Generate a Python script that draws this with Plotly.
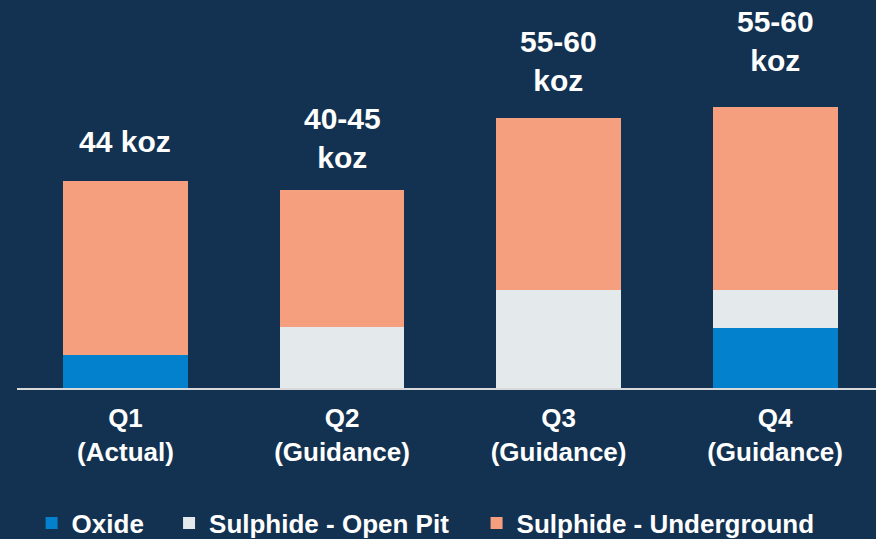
import plotly.graph_objects as go

# quarterly gold production by ore source (koz)
quarters = ["Q1<br>(Actual)", "Q2<br>(Guidance)", "Q3<br>(Guidance)", "Q4<br>(Guidance)"]
oxide = [7, 0, 0, 12.8]
sulphide_open_pit = [0, 13, 20.8, 8]
sulphide_underground = [37, 29, 36.6, 39]
totals_text = ["44 koz", "40-45<br>koz", "55-60<br>koz", "55-60<br>koz"]

BG = "#133251"
FONT = "Arial, Liberation Sans, sans-serif"

series = [
    ("Oxide", oxide, "#0481cc", "legend"),
    ("Sulphide - Open Pit", sulphide_open_pit, "#e4e9ec", "legend2"),
    ("Sulphide - Underground", sulphide_underground, "#f69f7f", "legend3"),
]

fig = go.Figure()
for name, vals, col, leg in series:
    fig.add_trace(go.Bar(
        x=quarters, y=vals, name=name, legend=leg, showlegend=True,
        marker=dict(color=col, line=dict(width=0)),
        width=0.577,
    ))

# label above each stack, offset in px from the bar top
label_shift = [40, 52, 57, 66]
for q, a, b, c, txt, s in zip(quarters, oxide, sulphide_open_pit,
                              sulphide_underground, totals_text, label_shift):
    fig.add_annotation(
        x=q, y=a + b + c, text="<b>%s</b>" % txt, showarrow=False,
        yanchor="middle", yshift=s,
        font=dict(family=FONT, size=30, color="white"),
    )

leg_style = dict(orientation="h", yanchor="middle", xanchor="left", y=-0.348,
                 bgcolor="rgba(0,0,0,0)", itemwidth=30,
                 font=dict(family=FONT, size=26, color="white", weight="bold"))
fig.update_layout(
    barmode="stack",
    width=876, height=539,
    margin=dict(l=17, r=0, t=0, b=151, autoexpand=False),
    paper_bgcolor=BG, plot_bgcolor=BG,
    showlegend=True,
    legend=dict(x=0.017, **leg_style),
    legend2=dict(x=0.177, **leg_style),
    legend3=dict(x=0.535, **leg_style),
    xaxis=dict(
        type="category", range=[-0.501, 3.466], automargin=False,
        showline=True, linecolor="#d9d9d9", linewidth=2,
        showgrid=False, ticks="", ticklabelstandoff=6,
        tickfont=dict(family=FONT, size=26, color="white", weight="bold"),
    ),
    yaxis=dict(range=[0, 82.5], visible=False, showgrid=False),
)

fig.write_html("out.html", config={"displayModeBar": False},
               post_script="document.body.style.margin='0';")
